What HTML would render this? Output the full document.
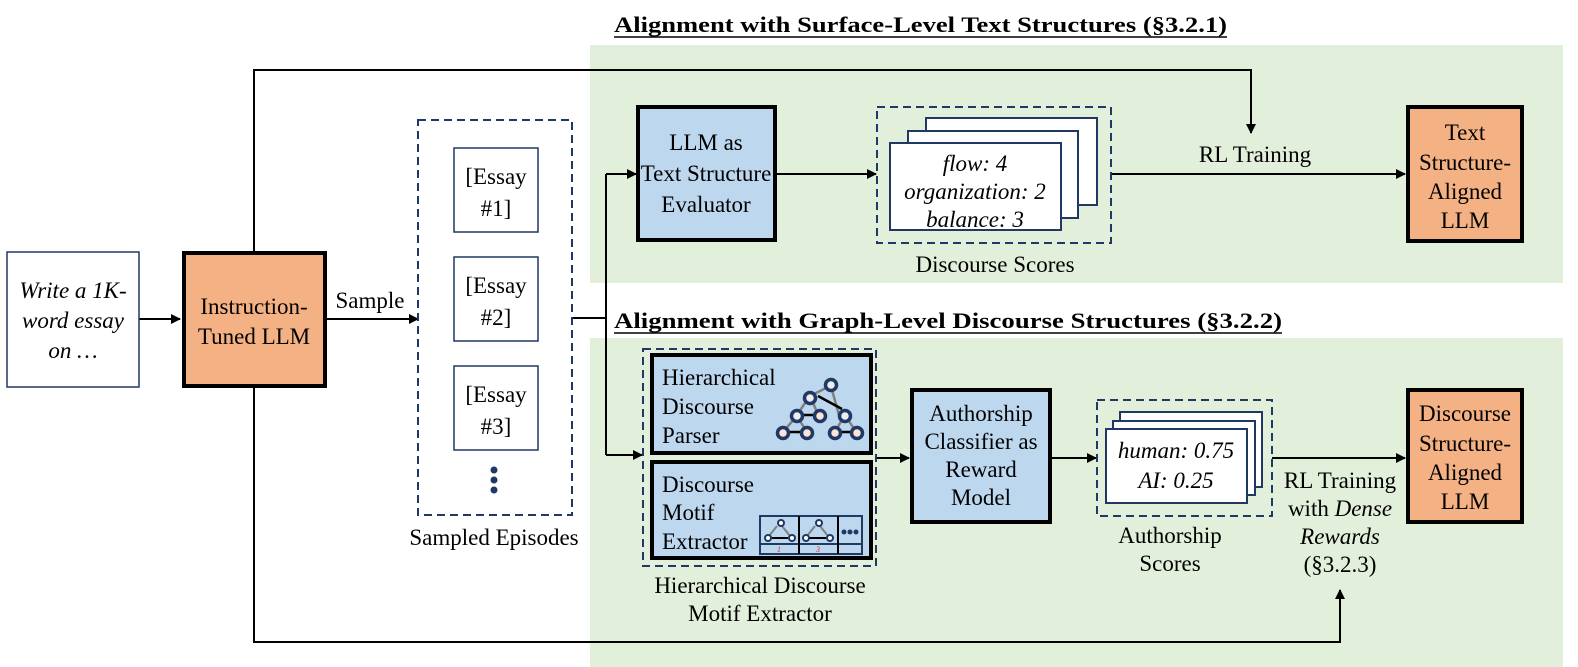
<!DOCTYPE html>
<html><head><meta charset="utf-8"><style>
body{margin:0;background:#fff}
svg{display:block}
text{font-family:"Liberation Serif","Times New Roman",serif;font-size:23px;fill:#000}
.i{font-style:italic}
</style></head><body>
<svg width="1578" height="667" viewBox="0 0 1578 667">
<defs><marker id="a" markerWidth="10" markerHeight="10" refX="9" refY="5" orient="auto" markerUnits="userSpaceOnUse"><path d="M0,0L10,5L0,10z" fill="#000"/></marker></defs>
<rect x="590" y="45" width="973" height="238" fill="#e2efda"/>
<rect x="590" y="338" width="973" height="329" fill="#e2efda"/>
<text x="614" y="32" font-weight="bold" style="font-size:22px" textLength="613" lengthAdjust="spacingAndGlyphs">Alignment with Surface-Level Text Structures (§3.2.1)</text>
<line x1="614" y1="37" x2="1227" y2="37" stroke="#000" stroke-width="1.5"/>
<text x="614" y="328" font-weight="bold" style="font-size:22px" textLength="668" lengthAdjust="spacingAndGlyphs">Alignment with Graph-Level Discourse Structures (§3.2.2)</text>
<line x1="614" y1="333" x2="1282" y2="333" stroke="#000" stroke-width="1.5"/>

<g stroke="#000" stroke-width="2" fill="none">
<polyline points="254,251 254,70 1251,70 1251,133" marker-end="url(#a)"/>
<polyline points="254,388 254,642 1340,642 1340,590" marker-end="url(#a)"/>
<line x1="139" y1="319" x2="180" y2="319" marker-end="url(#a)"/>
<line x1="327" y1="319" x2="418" y2="319" marker-end="url(#a)"/>
<polyline points="572,318 606,318"/>
<polyline points="606,174 606,455"/>
<line x1="606" y1="174" x2="636" y2="174" marker-end="url(#a)"/>
<line x1="606" y1="455" x2="642" y2="455" marker-end="url(#a)"/>
<line x1="775" y1="174" x2="876" y2="174" marker-end="url(#a)"/>
<line x1="1111" y1="174" x2="1405" y2="174" marker-end="url(#a)"/>
<line x1="876" y1="458" x2="909" y2="458" marker-end="url(#a)"/>
<line x1="1050" y1="458" x2="1096" y2="458" marker-end="url(#a)"/>
<line x1="1272" y1="458" x2="1405" y2="458" marker-end="url(#a)"/>
</g>

<rect x="7" y="252" width="132" height="135" fill="#fff" stroke="#1f3864" stroke-width="1.5"/>
<text class="i" x="73" y="298" text-anchor="middle">Write a 1K-</text>
<text class="i" x="73" y="328" text-anchor="middle">word essay</text>
<text class="i" x="73" y="358" text-anchor="middle">on …</text>
<rect x="184" y="253" width="141" height="133" fill="#f4b183" stroke="#000" stroke-width="4"/>
<text x="254" y="314" text-anchor="middle">Instruction-</text>
<text x="254" y="344" text-anchor="middle">Tuned LLM</text>
<text x="370" y="308" text-anchor="middle">Sample</text>

<rect x="418" y="120" width="154" height="395" fill="#fff" stroke="#1f3864" stroke-width="2" stroke-dasharray="8,5"/>
<g fill="#fff" stroke="#1f3864" stroke-width="1.5">
<rect x="454" y="148" width="84" height="84"/><rect x="454" y="257" width="84" height="84"/><rect x="454" y="366" width="84" height="84"/>
</g>
<text x="496" y="184" text-anchor="middle">[Essay</text><text x="496" y="216" text-anchor="middle">#1]</text>
<text x="496" y="293" text-anchor="middle">[Essay</text><text x="496" y="325" text-anchor="middle">#2]</text>
<text x="496" y="402" text-anchor="middle">[Essay</text><text x="496" y="434" text-anchor="middle">#3]</text>
<g fill="#1f3864"><circle cx="494" cy="470" r="3.5"/><circle cx="494" cy="480" r="3.5"/><circle cx="494" cy="490" r="3.5"/></g>
<text x="494" y="545" text-anchor="middle">Sampled Episodes</text>

<rect x="638" y="107" width="137" height="133" fill="#bdd7ee" stroke="#000" stroke-width="4"/>
<text x="706" y="150" text-anchor="middle">LLM as</text>
<text x="706" y="181" text-anchor="middle">Text Structure</text>
<text x="706" y="212" text-anchor="middle">Evaluator</text>

<rect x="877" y="107" width="234" height="136" fill="none" stroke="#1f3864" stroke-width="2" stroke-dasharray="8,5"/>
<g fill="#fff" stroke="#1f3864" stroke-width="2">
<rect x="926" y="118" width="171" height="87"/><rect x="908" y="131" width="170" height="87"/><rect x="890" y="143" width="171" height="87"/>
</g>
<text class="i" x="975" y="171" text-anchor="middle">flow: 4</text>
<text class="i" x="975" y="199" text-anchor="middle">organization: 2</text>
<text class="i" x="975" y="227" text-anchor="middle">balance: 3</text>
<text x="995" y="272" text-anchor="middle">Discourse Scores</text>
<text x="1255" y="162" text-anchor="middle">RL Training</text>

<rect x="1408" y="107" width="114" height="134" fill="#f4b183" stroke="#000" stroke-width="4"/>
<text x="1465" y="140" text-anchor="middle">Text</text>
<text x="1465" y="170" text-anchor="middle">Structure-</text>
<text x="1465" y="199" text-anchor="middle">Aligned</text>
<text x="1465" y="228" text-anchor="middle">LLM</text>

<rect x="643" y="349" width="233" height="217" fill="none" stroke="#1f3864" stroke-width="2" stroke-dasharray="8,5"/>
<rect x="652" y="355" width="219" height="98" fill="#bdd7ee" stroke="#000" stroke-width="4"/>
<rect x="652" y="462" width="219" height="96" fill="#bdd7ee" stroke="#000" stroke-width="4"/>
<text x="662" y="385">Hierarchical</text>
<text x="662" y="414">Discourse</text>
<text x="662" y="443">Parser</text>
<text x="662" y="492">Discourse</text>
<text x="662" y="520">Motif</text>
<text x="662" y="549">Extractor</text>
<g stroke="#808080" stroke-width="2.5">
<line x1="810" y1="396" x2="830" y2="386"/><line x1="797" y1="415" x2="807" y2="400"/><line x1="818" y1="415" x2="812" y2="400"/>
<line x1="783" y1="432" x2="795" y2="418"/><line x1="807" y1="432" x2="798" y2="418"/><line x1="839" y1="415" x2="832" y2="390"/>
<line x1="835" y1="432" x2="843" y2="418"/><line x1="856" y1="432" x2="847" y2="418"/>
</g>
<g stroke="#000" stroke-width="2.5"><line x1="842" y1="409" x2="818" y2="396"/><line x1="813" y1="415" x2="803" y2="415"/><line x1="802" y1="432" x2="789" y2="432"/><line x1="851" y1="432" x2="840" y2="432"/></g>
<g stroke="#1f3864" stroke-width="3.5">
<circle cx="831" cy="385" r="5.5" fill="#eee"/><circle cx="810" cy="398" r="5.5" fill="#eee"/>
<circle cx="797" cy="416" r="5.5" fill="#eee"/><circle cx="820" cy="416" r="5.5" fill="#fbe5d6"/><circle cx="845" cy="416" r="5.5" fill="#eee"/>
<circle cx="783" cy="433" r="5.5" fill="#fbe5d6"/><circle cx="807" cy="433" r="5.5" fill="#fbe5d6"/><circle cx="835" cy="433" r="5.5" fill="#fbe5d6"/><circle cx="857" cy="433" r="5.5" fill="#fbe5d6"/>
</g>
<g fill="none" stroke="#1f3864" stroke-width="2">
<rect x="760" y="516" width="102" height="38"/><line x1="760" y1="544" x2="862" y2="544"/>
</g>
<g stroke="#000" stroke-width="2"><line x1="799" y1="516" x2="799" y2="554"/><line x1="838" y1="516" x2="838" y2="554"/></g>
<g stroke="#808080" stroke-width="2"><line x1="769" y1="536" x2="777" y2="526"/><line x1="790" y1="536" x2="782" y2="526"/><line x1="807" y1="536" x2="815" y2="526"/><line x1="828" y1="536" x2="820" y2="526"/></g>
<g stroke="#000" stroke-width="2"><line x1="770" y1="538" x2="788" y2="538"/><line x1="808" y1="538" x2="826" y2="538"/></g>
<g fill="#fff" stroke="#1f3864" stroke-width="2"><circle cx="781" cy="523" r="3"/><circle cx="768" cy="538" r="3"/><circle cx="792" cy="538" r="3"/><circle cx="819" cy="523" r="3"/><circle cx="806" cy="538" r="3"/><circle cx="830" cy="538" r="3"/></g>
<g fill="#1f3864"><circle cx="844" cy="532" r="2.5"/><circle cx="850" cy="532" r="2.5"/><circle cx="856" cy="532" r="2.5"/></g>
<text x="779" y="552" class="i" text-anchor="middle" style="fill:#e03030;font-size:8px">1</text>
<text x="818" y="552" class="i" text-anchor="middle" style="fill:#e03030;font-size:8px">3</text>
<text x="760" y="593" text-anchor="middle">Hierarchical Discourse</text>
<text x="760" y="621" text-anchor="middle">Motif Extractor</text>

<rect x="912" y="390" width="138" height="132" fill="#bdd7ee" stroke="#000" stroke-width="4"/>
<text x="981" y="421" text-anchor="middle">Authorship</text>
<text x="981" y="449" text-anchor="middle">Classifier as</text>
<text x="981" y="477" text-anchor="middle">Reward</text>
<text x="981" y="505" text-anchor="middle">Model</text>

<rect x="1097" y="400" width="175" height="116" fill="none" stroke="#1f3864" stroke-width="2" stroke-dasharray="8,5"/>
<g fill="#fff" stroke="#1f3864" stroke-width="2">
<rect x="1120" y="412" width="142" height="75"/><rect x="1113" y="421" width="142" height="74"/><rect x="1106" y="429" width="141" height="74"/>
</g>
<text class="i" x="1176" y="458" text-anchor="middle">human: 0.75</text>
<text class="i" x="1176" y="488" text-anchor="middle">AI: 0.25</text>
<text x="1170" y="543" text-anchor="middle">Authorship</text>
<text x="1170" y="571" text-anchor="middle">Scores</text>
<text x="1340" y="488" text-anchor="middle">RL Training</text>
<text x="1340" y="516" text-anchor="middle">with <tspan class="i">Dense</tspan></text>
<text class="i" x="1340" y="544" text-anchor="middle">Rewards</text>
<text x="1340" y="572" text-anchor="middle">(§3.2.3)</text>

<rect x="1408" y="390" width="114" height="132" fill="#f4b183" stroke="#000" stroke-width="4"/>
<text x="1465" y="421" text-anchor="middle">Discourse</text>
<text x="1465" y="451" text-anchor="middle">Structure-</text>
<text x="1465" y="480" text-anchor="middle">Aligned</text>
<text x="1465" y="509" text-anchor="middle">LLM</text>
</svg>
</body></html>
